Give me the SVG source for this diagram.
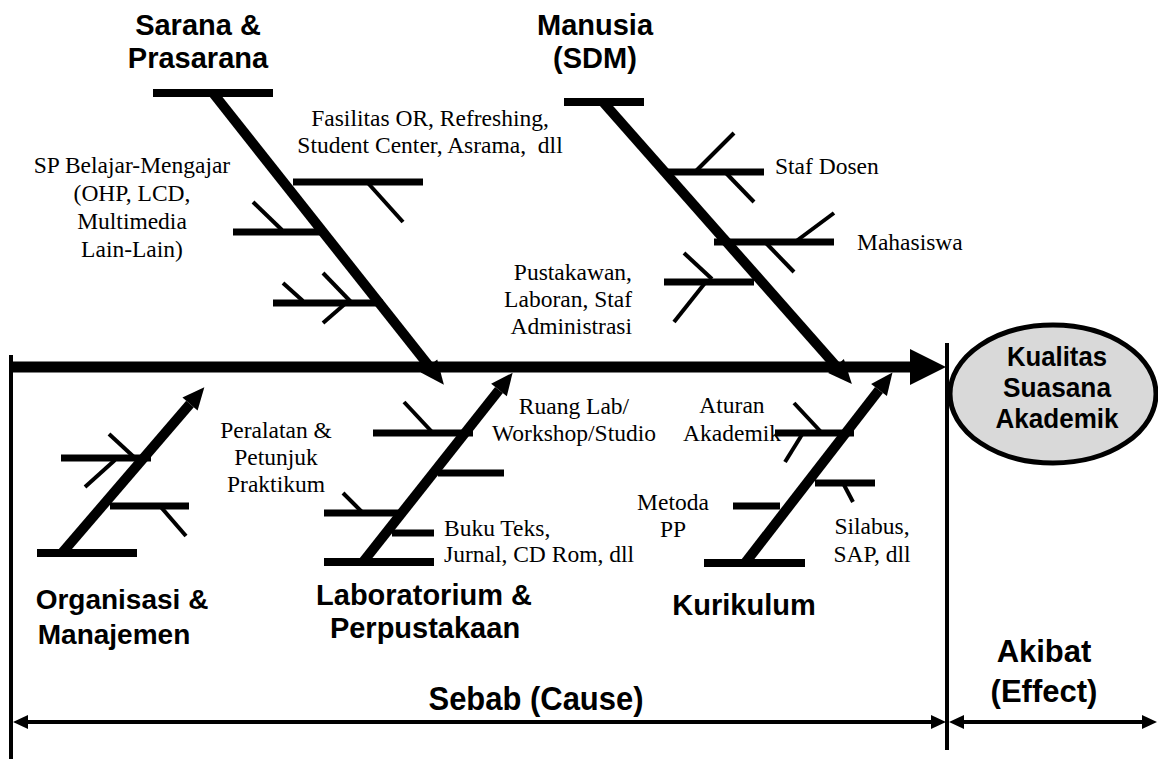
<svg xmlns="http://www.w3.org/2000/svg" width="1158" height="759" viewBox="0 0 1158 759">
<style>
.s{font-family:"Liberation Serif","Times New Roman",serif;font-size:23.5px;fill:#000}
.b{font-family:"Liberation Sans",Arial,sans-serif;font-weight:bold;font-size:29px;fill:#000}
.c{text-anchor:middle}
.e{text-anchor:end}
.bone{stroke:#000;stroke-width:10;fill:none}
.bar{stroke:#000;stroke-width:8;fill:none}
.br{stroke:#000;stroke-width:7;fill:none}
.tw{stroke:#000;stroke-width:4;fill:none}
.dim{stroke:#000;stroke-width:4;fill:none}
</style>
<defs>
<marker id="ah" markerUnits="userSpaceOnUse" markerWidth="30" markerHeight="30" refX="0" refY="0" orient="auto" overflow="visible">
<path d="M0,-10.5 L24,0 L0,10.5 z" fill="#000"/>
</marker>
<marker id="ahs" markerUnits="userSpaceOnUse" markerWidth="30" markerHeight="30" refX="0" refY="0" orient="auto" overflow="visible">
<path d="M0,-10 L22,0 L0,10 z" fill="#000"/>
</marker>
<marker id="da" markerUnits="userSpaceOnUse" markerWidth="20" markerHeight="20" refX="0" refY="0" orient="auto-start-reverse" overflow="visible">
<path d="M0,-7 L15,0 L0,7 z" fill="#000"/>
</marker>
</defs>

<g id="connectors">
<line x1="11" y1="355" x2="11" y2="759" class="dim"/>
<line x1="947" y1="343" x2="947" y2="750" class="dim"/>
<line x1="11" y1="367" x2="911" y2="367" stroke="#000" stroke-width="11"/>
<polygon points="910,349 946,367 910,385" fill="#000"/>
<line x1="28" y1="722" x2="931" y2="722" class="dim" marker-start="url(#da)" marker-end="url(#da)"/>
<line x1="964" y1="722" x2="1142" y2="722" class="dim" marker-start="url(#da)" marker-end="url(#da)"/>
</g>

<g id="effect">
<ellipse cx="1053" cy="394" rx="103" ry="69" fill="#d9d9d9" stroke="#000" stroke-width="5"/>
<text class="b c" x="1057" y="366" style="font-size:27px" textLength="100" lengthAdjust="spacingAndGlyphs">Kualitas</text>
<text class="b c" x="1057" y="397" style="font-size:27px" textLength="108" lengthAdjust="spacingAndGlyphs">Suasana</text>
<text class="b c" x="1057" y="428" style="font-size:27px" textLength="123" lengthAdjust="spacingAndGlyphs">Akademik</text>
</g>

<g id="sarana">
<line x1="153" y1="93" x2="273" y2="93" class="bar"/>
<line x1="213" y1="93" x2="429" y2="366" class="bone" marker-end="url(#ah)"/>
<line x1="293" y1="182" x2="423" y2="182" class="br"/>
<line x1="367" y1="182" x2="403" y2="222" class="tw"/>
<line x1="233" y1="232" x2="322" y2="232" class="br"/>
<line x1="253" y1="202" x2="282" y2="230" class="tw"/>
<line x1="273" y1="303" x2="383" y2="303" class="br"/>
<line x1="283" y1="283" x2="303" y2="301" class="tw"/>
<line x1="323" y1="273" x2="351" y2="302" class="tw"/>
<line x1="346" y1="303" x2="323" y2="323" class="tw"/>
<text class="b c" x="198" y="35">Sarana &amp;</text>
<text class="b c" x="198" y="68">Prasarana</text>
<text class="s c" x="430" y="126">Fasilitas OR, Refreshing,</text>
<text class="s c" x="430" y="153" xml:space="preserve">Student Center, Asrama,  dll</text>
<text class="s c" x="132" y="173">SP Belajar-Mengajar</text>
<text class="s c" x="132" y="201">(OHP, LCD,</text>
<text class="s c" x="132" y="229">Multimedia</text>
<text class="s c" x="132" y="257">Lain-Lain)</text>
</g>

<g id="manusia">
<line x1="564" y1="102" x2="644" y2="102" class="bar"/>
<line x1="603" y1="102" x2="836" y2="366" class="bone" marker-end="url(#ah)"/>
<line x1="667" y1="172" x2="764" y2="172" class="br"/>
<line x1="695" y1="172" x2="734" y2="133" class="tw"/>
<line x1="725" y1="172" x2="754" y2="202" class="tw"/>
<line x1="714" y1="242" x2="834" y2="242" class="br"/>
<line x1="795" y1="242" x2="834" y2="213" class="tw"/>
<line x1="765" y1="242" x2="794" y2="272" class="tw"/>
<line x1="664" y1="282" x2="754" y2="282" class="br"/>
<line x1="684" y1="253" x2="712" y2="279" class="tw"/>
<line x1="705" y1="283" x2="674" y2="322" class="tw"/>
<text class="b c" x="595" y="35">Manusia</text>
<text class="b c" x="595" y="68">(SDM)</text>
<text class="s" x="775" y="174">Staf Dosen</text>
<text class="s" x="857" y="250">Mahasiswa</text>
<text class="s e" x="632" y="280">Pustakawan,</text>
<text class="s e" x="632" y="307">Laboran, Staf</text>
<text class="s e" x="632" y="334">Administrasi</text>
</g>

<g id="organisasi">
<line x1="37" y1="553" x2="137" y2="553" class="bar"/>
<line x1="62" y1="553" x2="190" y2="404" class="bone" stroke-width="9" marker-end="url(#ahs)"/>
<line x1="61" y1="458" x2="151" y2="458" class="br"/>
<line x1="109" y1="434" x2="135" y2="458" class="tw"/>
<line x1="85" y1="487" x2="115" y2="460" class="tw"/>
<line x1="110" y1="506" x2="189" y2="506" class="br"/>
<line x1="160" y1="506" x2="186" y2="536" class="tw"/>
<text class="b c" x="122" y="609" style="font-size:28px">Organisasi &amp;</text>
<text class="b c" x="114" y="644" style="font-size:28px">Manajemen</text>
</g>

<g id="laboratorium">
<line x1="324" y1="562" x2="434" y2="562" class="bar"/>
<line x1="363" y1="562" x2="499" y2="390" class="bone" stroke-width="9" marker-end="url(#ahs)"/>
<line x1="373" y1="433" x2="473" y2="433" class="br"/>
<line x1="404" y1="402" x2="433" y2="433" class="tw"/>
<line x1="438" y1="473" x2="504" y2="473" class="br"/>
<line x1="324" y1="513" x2="401" y2="513" class="br"/>
<line x1="343" y1="493" x2="363" y2="513" class="tw"/>
<line x1="392" y1="533" x2="434" y2="533" class="br"/>
<text class="s c" x="276" y="438">Peralatan &amp;</text>
<text class="s c" x="276" y="465">Petunjuk</text>
<text class="s c" x="276" y="492">Praktikum</text>
<text class="s c" x="574" y="414">Ruang Lab/</text>
<text class="s c" x="574" y="441">Workshop/Studio</text>
<text class="s" x="444" y="536">Buku Teks,</text>
<text class="s" x="444" y="562">Jurnal, CD Rom, dll</text>
<text class="b c" x="424" y="605">Laboratorium &amp;</text>
<text class="b c" x="425" y="638">Perpustakaan</text>
</g>

<g id="kurikulum">
<line x1="704" y1="563" x2="805" y2="563" class="bar"/>
<line x1="745" y1="563" x2="879" y2="390" class="bone" stroke-width="9" marker-end="url(#ahs)"/>
<line x1="775" y1="433" x2="854" y2="433" class="br"/>
<line x1="794" y1="403" x2="822" y2="433" class="tw"/>
<line x1="803" y1="433" x2="785" y2="462" class="tw"/>
<line x1="815" y1="483" x2="875" y2="483" class="br"/>
<line x1="843" y1="483" x2="853" y2="502" class="tw"/>
<line x1="733" y1="506" x2="780" y2="506" class="br"/>
<text class="s c" x="732" y="413">Aturan</text>
<text class="s c" x="732" y="441">Akademik</text>
<text class="s c" x="673" y="510">Metoda</text>
<text class="s c" x="673" y="537">PP</text>
<text class="s c" x="872" y="534">Silabus,</text>
<text class="s c" x="872" y="562">SAP, dll</text>
<text class="b c" x="744" y="615">Kurikulum</text>
</g>

<g id="labels">
<text class="b c" x="536" y="710" style="font-size:33px" textLength="215" lengthAdjust="spacingAndGlyphs">Sebab (Cause)</text>
<text class="b c" x="1044" y="662" style="font-size:31px">Akibat</text>
<text class="b c" x="1044" y="702" style="font-size:31px">(Effect)</text>
</g>
</svg>
